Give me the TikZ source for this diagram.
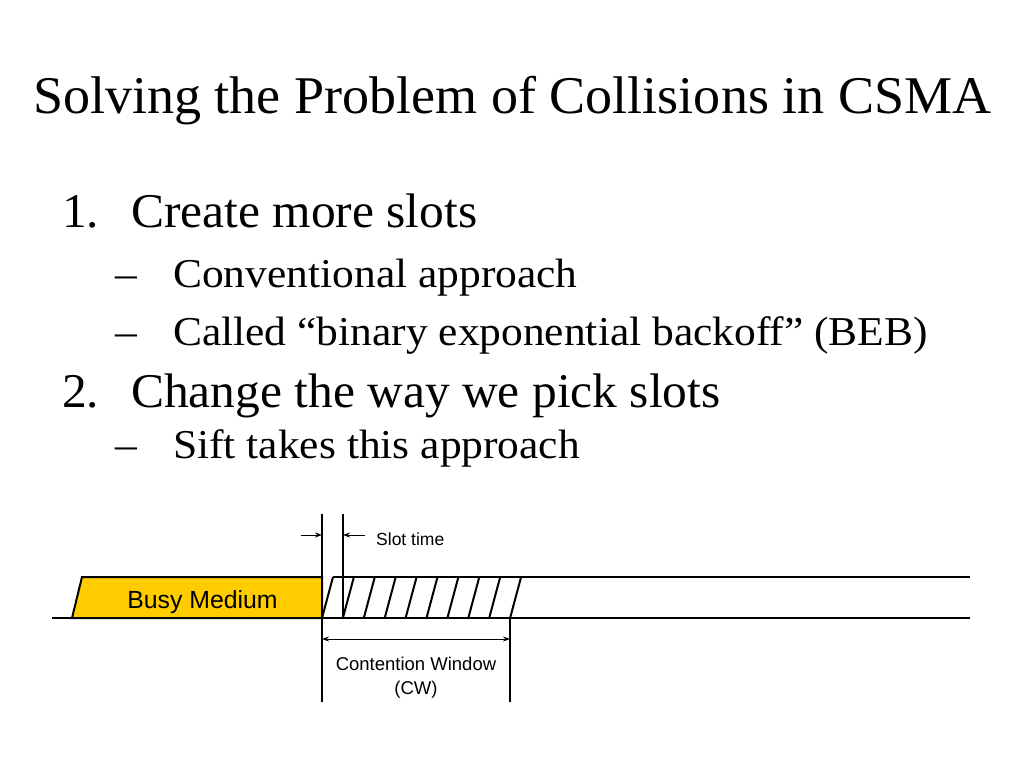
\documentclass[tikz,border=0pt]{standalone}
\usepackage{fontspec}
\setmainfont{Liberation Serif}[FakeStretch=1.02]
\newfontfamily\itemfont[FakeStretch=1.02]{Liberation Serif}
\newfontfamily\subfont[FakeStretch=1.06]{Liberation Serif}
\newfontfamily\diagfont{Liberation Sans}
\usetikzlibrary{positioning,calc,arrows.meta}
\definecolor{busyyellow}{RGB}{255,204,0}
\tikzset{
	slide text/.style={anchor=base west, inner sep=0pt},
	item text/.style={slide text, font=\itemfont\fontsize{48.5}{56}\selectfont},
	sub text/.style={slide text, font=\subfont\fontsize{41}{48}\selectfont},
	diag text/.style={inner sep=0pt},
	wire/.style={line width=2pt},
	dim arrow/.style={line width=1pt, -{Stealth[length=7pt,width=5pt]}},
}

\begin{document}
\begin{tikzpicture}[x=1pt,y=-1pt]
			\useasboundingbox (0,0) rectangle (1024,768);
			\node[name=title, slide text, font=\fontsize{53}{60}\selectfont] at (33,113) {Solving the Problem of Collisions in CSMA};
			\node[name=n1, item text] at (62,227) {1.};
			\node[name=i1, item text] at (131,227) {Create more slots};
			\node[name=d1, sub text] at (115,287) {–};
			\node[name=s1, sub text] at (173,287) {Conventional approach};
			\node[name=d2, sub text] at (115,345) {–};
			\node[name=s2, sub text] at (173,345) {Called “binary exponential backoff” (BEB)};
			\node[name=n2, item text] at (62,407) {2.};
			\node[name=i2, item text] at (131,407) {Change the way we pick slots};
			\node[name=d3, sub text] at (115,458) {–};
			\node[name=s3, sub text] at (173,458) {Sift takes this approach};

			\coordinate (base l) at (52,618);
			\coordinate (base r) at (970,618);
			\coordinate (top l) at (333,577);
			\coordinate (top r) at (970,577);
			\filldraw[wire, fill=busyyellow] (72,618) -- (82,577) -- (322,577) -- (322,618) -- cycle;
			\node[name=busy, diag text, anchor=base, font=\diagfont\fontsize{24.8}{28}\selectfont] at (202.5,608.5) {Busy Medium};
			\draw[wire] (base l) -- (base r);
			\draw[wire] (top l) -- (top r);
			\foreach \i in {0,...,9}
				\draw[wire] ($(322,618)+(20.9*\i,0)$) -- ($(333,577)+(20.9*\i,0)$);
			\coordinate (cw a) at (322,514);
			\coordinate (cw b) at (322,702);
			\coordinate (slot a) at (343,514);
			\coordinate (slot b) at (343,618);
			\coordinate (cw c) at (510,618);
			\coordinate (cw d) at (510,702);
			\draw[line width=1.4pt] (cw a) -- (cw b);
			\draw[line width=1.4pt] (slot a) -- (slot b);
			\draw[line width=1.4pt] (cw c) -- (cw d);
			\coordinate (st l) at (301,535);
			\coordinate (st r) at (365,535);
			\draw[dim arrow] (st l) -- (st l -| cw a);
			\draw[dim arrow] (st r) -- (st r -| slot a);
			\node[name=slot, diag text, anchor=base west, font=\diagfont\fontsize{17.5}{20}\selectfont] at (376,545) {Slot time};
			\coordinate (cw l) at (322,639);
			\coordinate (cw r) at (510,639);
			\draw[dim arrow, {Stealth[length=7pt,width=5pt]}-{Stealth[length=7pt,width=5pt]}] (cw l) -- (cw r);
			\node[name=cw, diag text, align=center, anchor=north, font=\diagfont\fontsize{18.5}{24}\selectfont] at (416,657) {Contention Window\\(CW)};
		\end{tikzpicture}
\end{document}
